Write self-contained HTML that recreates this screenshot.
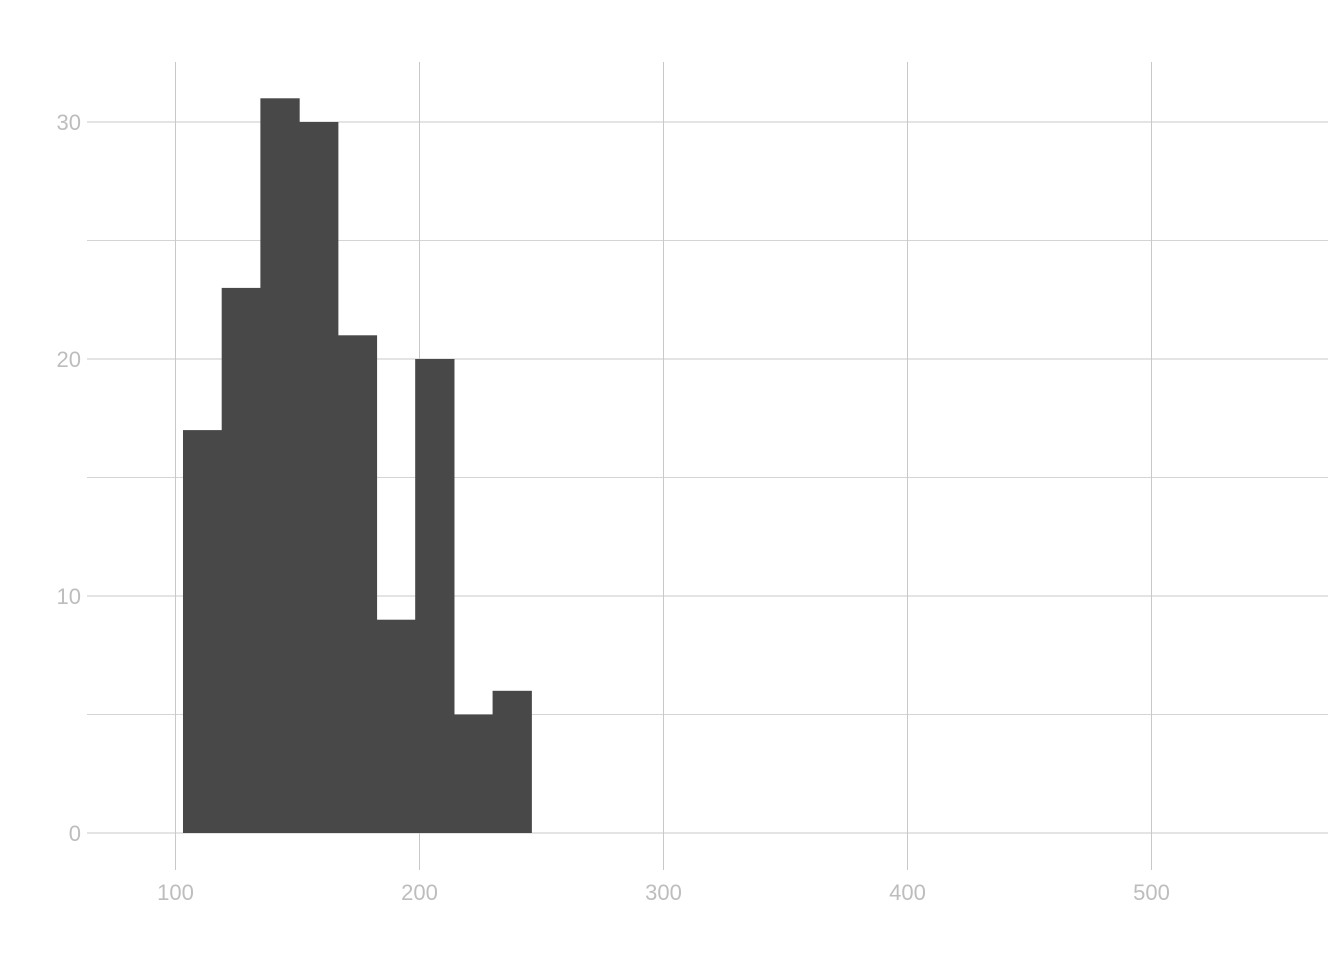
<!DOCTYPE html>
<html><head><meta charset="utf-8"><style>
html,body{margin:0;padding:0;background:#fff;}
svg text{font-family:"Liberation Sans",sans-serif;}
</style></head><body>
<svg id="chart" width="1344" height="960" xmlns="http://www.w3.org/2000/svg">
<g id="grid"></g>
<g id="bars"></g>
<g id="xlabels"></g>
<g id="ylabels"></g>
</svg>
<script>
const binStart = 103.07;
const binWidth = 15.86;
const counts = [17, 23, 31, 30, 21, 9, 20, 5, 6];
const xTicks = [100, 200, 300, 400, 500];
const yTicks = [0, 10, 20, 30];
const yMinor = [5, 15, 25];

function xs(v){ return 175.5 + (v - 100) * 2.44; }
function ys(v){ return 833 - v * 23.7; }
const NS = "http://www.w3.org/2000/svg";
const grid = document.getElementById('grid');
const bars = document.getElementById('bars');
const xl = document.getElementById('xlabels');
const yl = document.getElementById('ylabels');
function mk(t, attrs, parent){
  const e = document.createElementNS(NS, t);
  for (const k in attrs) e.setAttribute(k, attrs[k]);
  parent.appendChild(e); return e;
}
yMinor.forEach(v => {
  const l = mk('line', {x1:87, x2:1328, y1:ys(v), y2:ys(v), stroke:'#d4d4d4', 'stroke-width':1}, grid);
  
  
});
yTicks.forEach(v => {
  const l = mk('line', {x1:87, x2:1328, y1:ys(v), y2:ys(v), stroke:'#c8c8c8', 'stroke-width':1}, grid);
  
  
  const t = mk('text', {x:81, y:ys(v)+8, 'text-anchor':'end', 'font-size':22, fill:'#bdbdbd'}, yl);
  t.textContent = v;
  
  
});
xTicks.forEach(v => {
  const l = mk('line', {x1:xs(v), x2:xs(v), y1:62, y2:870, stroke:'#c8c8c8', 'stroke-width':1}, grid);
  
  
  const t = mk('text', {x:xs(v), y:900, 'text-anchor':'middle', 'font-size':22, fill:'#bdbdbd'}, xl);
  t.textContent = v;
  
  
});
counts.forEach((c, i) => {
  const x0 = xs(binStart + i * binWidth), x1 = xs(binStart + (i + 1) * binWidth);
  const r = mk('rect', {x:x0, y:ys(c), width:x1 - x0 + 0.6, height:ys(0) - ys(c), fill:'#484848'}, bars);
  
  
});
</script>
</body></html>
